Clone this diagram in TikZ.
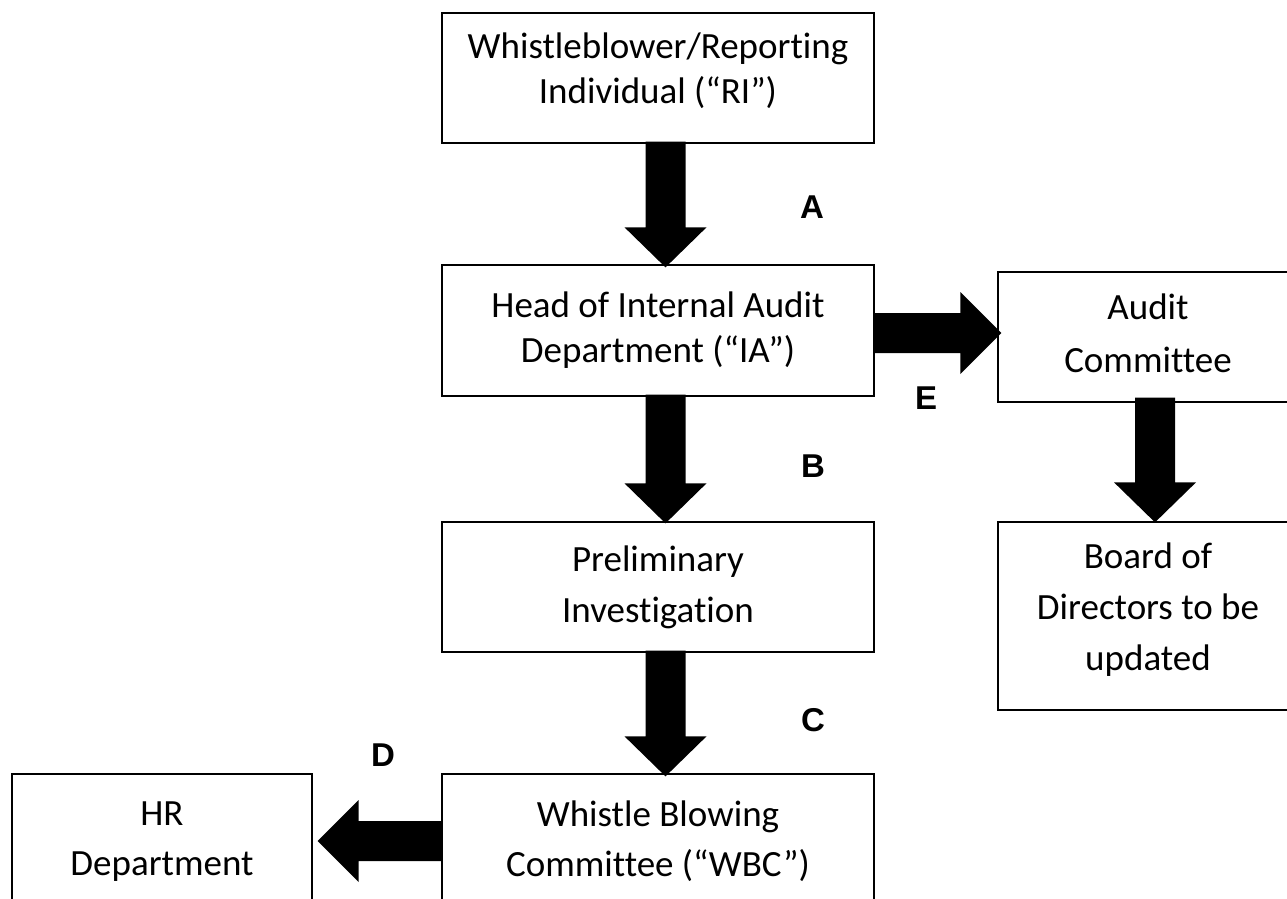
\documentclass[tikz,border=0pt]{standalone}
\usepackage{fontspec}
\setmainfont{Carlito}[Ligatures=NoCommon]
\newfontfamily\lblfont{Liberation Sans}
\usetikzlibrary{calc}
\newcommand{\arrDown}[2]{\fill[black] let \p1=#1, \p2=#2 in
  (\x1-20pt,\y1) -- (\x1+20pt,\y1) -- (\x1+20pt,\y2+40pt) -- (\x1+41pt,\y2+40pt)
  -- (\x1,\y2) -- (\x1-41pt,\y2+40pt) -- (\x1-20pt,\y2+40pt) -- cycle;}
\newcommand{\arrRight}[2]{\fill[black] let \p1=#1, \p2=#2 in
  (\x1,\y1+20pt) -- (\x2-41pt,\y1+20pt) -- (\x2-41pt,\y1+41pt) -- (\x2,\y1)
  -- (\x2-41pt,\y1-41pt) -- (\x2-41pt,\y1-20pt) -- (\x1,\y1-20pt) -- cycle;}
\newcommand{\arrLeft}[2]{\fill[black] let \p1=#1, \p2=#2 in
  (\x1,\y1+20pt) -- (\x2+41pt,\y1+20pt) -- (\x2+41pt,\y1+41pt) -- (\x2,\y1)
  -- (\x2+41pt,\y1-41pt) -- (\x2+41pt,\y1-20pt) -- (\x1,\y1-20pt) -- cycle;}
\begin{document}
\begin{tikzpicture}[x=1pt,y=-1pt,
  box/.style={draw=black, line width=1.3pt, inner sep=0pt},
  mainbox/.style={box, minimum width=432, minimum height=130},
  sidebox/.style={box, minimum width=300, minimum height=130},
  boxtext/.style={align=center, inner sep=0pt, font=\fontsize{37}{#1}\selectfont},
  boxtext/.default=45,
  steplabel/.style={font=\lblfont\bfseries\fontsize{33}{37}\selectfont, inner sep=0pt}]
\useasboundingbox (0,0) rectangle (1287,899);
\fill[white] (0,0) rectangle (1287,899);
% boxes
\node[mainbox] (ri) at (658,78) {};
\node[mainbox, minimum height=131] (ia) at (658,330.5) {};
\node[mainbox] (pi) at (658,587) {};
\node[mainbox] (wbc) at (658,839) {};
\node[sidebox] (hr) at (162,839) {};
\node[sidebox] (ac) at (1148,337) {};
\node[sidebox, minimum height=188] (bd) at (1148,616) {};
% texts
\node[boxtext] (ri-t) at ($(ri.center)+(0,-7)$) {Whistleblower/Reporting\\Individual (“RI”)};
\node[boxtext] (ia-t) at (ia.center) {Head of Internal Audit\\Department (“IA”)};
\node[boxtext=51] (pi-t) at (pi.center) {Preliminary\\Investigation};
\node[boxtext=50] (wbc-t) at ($(wbc.center)+(0,2.5)$) {Whistle Blowing\\Committee (“WBC”)};
\node[boxtext=50] (hr-t) at ($(hr.center)+(0,2.5)$) {HR\\Department};
\node[boxtext=53] (ac-t) at ($(ac.center)+(0,-3.5)$) {Audit\\Committee};
\node[boxtext=51] (bd-t) at ($(bd.center)+(0,-6)$) {Board of\\Directors to be\\updated};
% block arrows
\arrDown{($(ri.south)+(7.5,-2)$)}{($(ia.north)+(7.5,3)$)}
\arrDown{($(ia.south)+(7.5,-2)$)}{($(pi.north)+(7.5,2)$)}
\arrDown{($(pi.south)+(7.5,-2)$)}{($(wbc.north)+(7.5,3)$)}
\arrDown{($(ac.south)+(7,-5)$)}{($(bd.north)+(7,1)$)}
\arrRight{($(ia.east)+(0,2.5)$)}{($(ac.west)+(4,-4)$)}
\arrLeft{($(wbc.west)+(0,2)$)}{($(hr.east)+(5,2)$)}
% step labels
\node[steplabel] (la) at (812,207) {A};
\node[steplabel] (lb) at (813,466) {B};
\node[steplabel] (lc) at (813,720) {C};
\node[steplabel] (ld) at (383,755) {D};
\node[steplabel] (le) at (926,398) {E};
\end{tikzpicture}
\end{document}
